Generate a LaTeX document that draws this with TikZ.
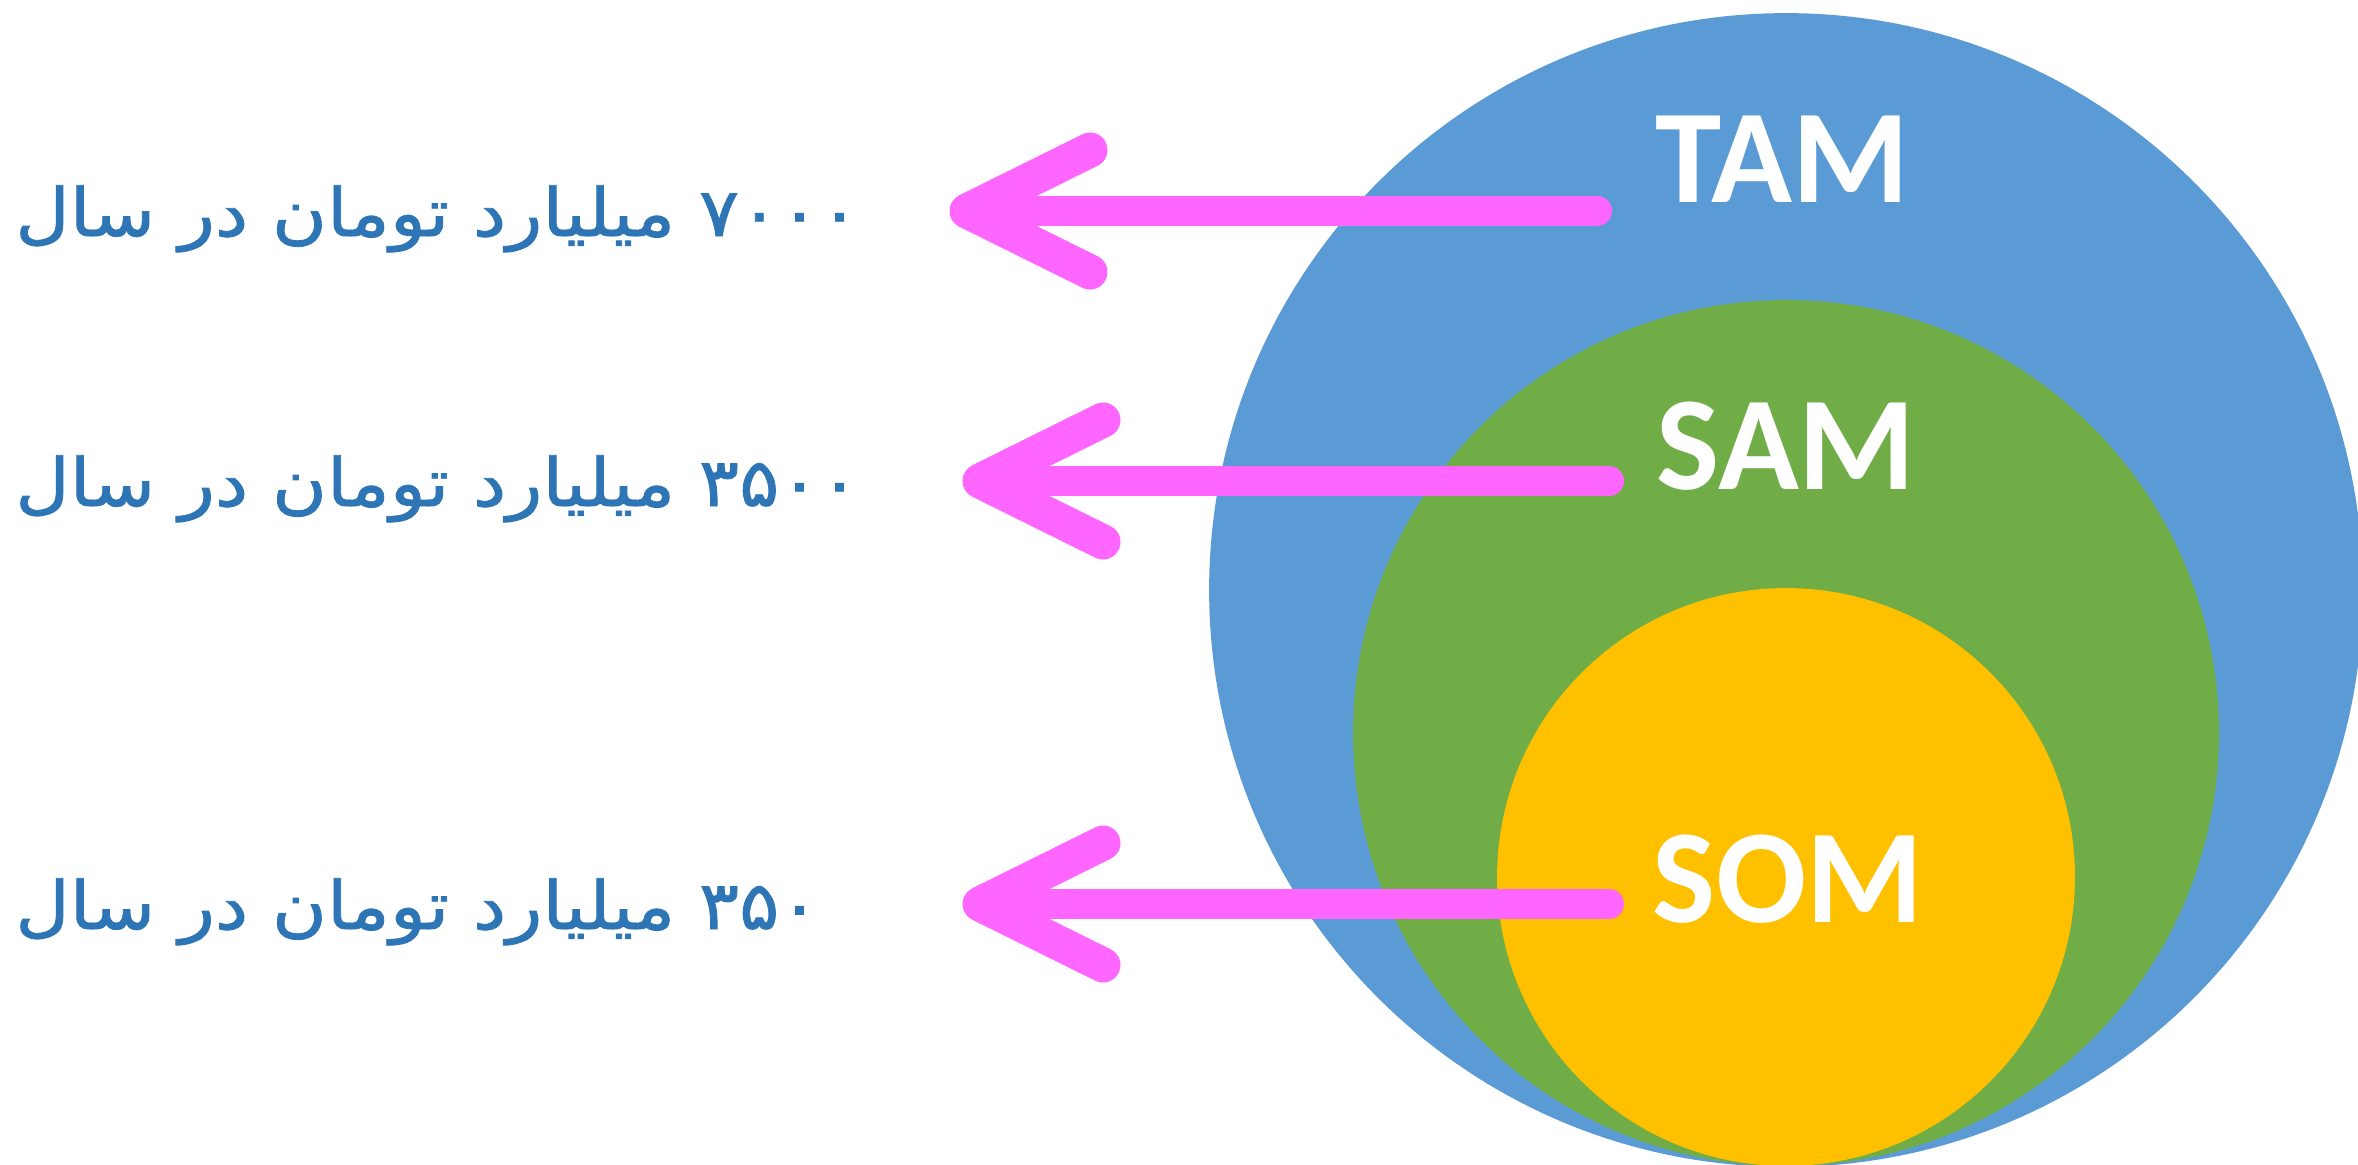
\documentclass[tikz,border=0pt]{standalone}
\usepackage{fontspec}
\setmainfont{Carlito}
\newfontfamily\fafont[Script=Arabic,FakeStretch=1.12,FakeBold=1.2]{DejaVu Sans}
\TeXXeTstate=1
\definecolor{tamblue}{HTML}{5B9BD5}
\definecolor{samgreen}{HTML}{70AD47}
\definecolor{somyellow}{HTML}{FFC000}
\definecolor{arrowpink}{HTML}{FF66FF}
\definecolor{textblue}{HTML}{2E75B6}
\begin{document}
\begin{tikzpicture}[x=0.02cm,y=-0.02cm,
  disc/.style={circle,inner sep=0pt,draw=none},
  lbl/.style={text=white,font=\bfseries\fontsize{76}{76}\selectfont,inner sep=0pt},
  fatext/.style={text=textblue,font=\fafont\fontsize{38}{40}\selectfont,inner sep=0pt,anchor=base west},
  pinkline/.style={draw=arrowpink,line width=0.6cm,line cap=round,line join=round},
  pinkhead/.style={draw=arrowpink,line width=0.7cm,line cap=round,line join=round}]
\useasboundingbox (0,0) rectangle (2358,1164);
\clip (0,0) rectangle (2358,1164);
\node[disc,fill=tamblue,minimum size=23.08cm] (tam) at (1786,590) {};
\node[disc,fill=samgreen,minimum size=17.32cm] (sam) at (1786,733) {};
\node[disc,fill=somyellow,minimum size=11.56cm] (som) at (1786,877) {};
\node[lbl] (tamlbl) at (1782,159) {TAM};
\node[lbl] (samlbl) at (1786,446) {SAM};
\node[lbl] (somlbl) at (1788,879) {SOM};
% arrow 1
\coordinate (s1) at (1597,211);
\coordinate (t1) at (967,211);
\coordinate (u1) at (1090,150);
\coordinate (d1) at (1090,272);
\draw[pinkline] (s1) -- (t1);
\draw[pinkhead] (u1) -- (t1) -- (d1);
% arrow 2
\coordinate (s2) at (1609,481);
\coordinate (t2) at (980,481);
\coordinate (u2) at (1103,420);
\coordinate (d2) at (1103,542);
\draw[pinkline] (s2) -- (t2);
\draw[pinkhead] (u2) -- (t2) -- (d2);
% arrow 3
\coordinate (s3) at (1609,904);
\coordinate (t3) at (980,904);
\coordinate (u3) at (1103,843);
\coordinate (d3) at (1103,965);
\draw[pinkline] (s3) -- (t3);
\draw[pinkhead] (u3) -- (t3) -- (d3);
\node[fatext] (txt1) at (15,236) {\beginR\beginL ۷۰۰۰\endL{} میلیارد تومان در سال\endR};
\node[fatext] (txt2) at (15,506) {\beginR\beginL ۳۵۰۰\endL{} میلیارد تومان در سال\endR};
\node[fatext] (txt3) at (15,929) {\beginR\beginL ۳۵۰\endL{} میلیارد تومان در سال\endR};
\end{tikzpicture}
\end{document}
